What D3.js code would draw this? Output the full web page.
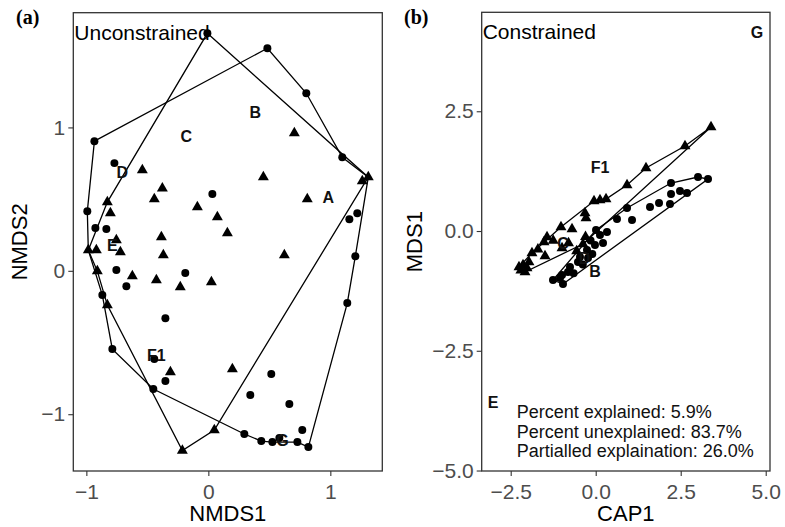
<!DOCTYPE html>
<html><head><meta charset="utf-8">
<script src="https://cdn.jsdelivr.net/npm/d3@7"></script>
<style>body{margin:0;background:#fff}svg{display:block}</style>
</head><body>
<svg id="c" width="785" height="527"></svg>
<script>
// ---------- Panel (a): Unconstrained NMDS ----------
const aCircles = [[-0.008,1.656],[0.484,1.552],[0.803,1.238],[-0.934,0.904],[1.098,0.792],[-0.770,0.751],[0.033,0.535],[1.156,0.360],[1.221,0.402],[-0.992,0.416],[-0.926,0.298],[-0.836,0.291],[1.205,0.102],[-0.754,0.005],[-0.672,-0.107],[-0.189,-0.016],[-0.869,-0.169],[-0.352,-0.330],[1.139,-0.225],[-0.787,-0.546],[-0.443,-0.615],[-0.352,-0.768],[-0.451,-0.824],[0.516,-0.720],[0.344,-0.866],[0.664,-0.929],[0.770,-1.110],[0.295,-1.138],[0.434,-1.187],[0.525,-1.194],[0.582,-1.166],[0.730,-1.194],[0.820,-1.229]];
const aTriangles = [[0.705,0.960],[-0.541,0.702],[0.451,0.653],[1.311,0.653],[1.262,0.625],[-0.377,0.576],[-0.443,0.500],[0.811,0.500],[-0.090,0.444],[0.074,0.374],[0.156,0.263],[-0.828,0.479],[-0.803,0.402],[-0.754,0.214],[-0.385,0.235],[-0.984,0.144],[-0.918,0.144],[-0.721,0.130],[-0.369,0.109],[0.623,0.109],[-0.910,-0.002],[-0.623,-0.037],[-0.426,-0.065],[-0.230,-0.114],[0.025,-0.079],[-0.828,-0.239],[-0.311,-0.706],[0.197,-0.685],[0.049,-1.110],[-0.213,-1.253]];
const aHull1 = [[-0.008,1.656],[1.311,0.653],[0.049,-1.110],[-0.213,-1.253],[-0.828,-0.239],[-0.910,-0.002],[-0.984,0.144],[-0.828,0.479]];
const aHull2 = [[-0.934,0.904],[0.484,1.552],[0.803,1.238],[1.098,0.792],[1.311,0.653],[1.205,0.102],[1.139,-0.225],[0.820,-1.229],[0.730,-1.194],[0.525,-1.194],[0.434,-1.187],[0.295,-1.138],[-0.451,-0.824],[-0.787,-0.546],[-0.869,-0.169],[-0.984,0.144],[-0.992,0.416]];
const aLabels = ["A","B","C","D","E","F1","G"];
const aLabelPos = [[0.984,0.514],[0.385,1.105],[-0.180,0.939],[-0.705,0.688],[-0.787,0.179],[-0.426,-0.587],[0.607,-1.180]];
const aXTicks = [-1,0,1];
const aYTicks = [-1,0,1];

// ---------- Panel (b): Constrained (CAP) ----------
const bTriangles = [[3.391,2.171],[2.626,1.775],[1.479,1.315],[0.921,0.960],[0.303,0.668],[0.126,0.647],[-0.050,0.626],[-0.315,0.376],[-0.285,0.271],[-1.021,0.084],[-0.697,0.042],[-1.432,-0.125],[-1.521,-0.230],[-1.874,-0.459],[-2.138,-0.710],[-2.256,-0.752],[-2.021,-0.772],[-1.962,-0.647],[-1.491,-0.522],[-0.991,-0.355],[-0.374,-0.271],[-2.079,-0.856],[-2.200,-0.820],[-0.300,-0.120],[-0.560,-0.420],[-0.800,-0.250],[-1.700,-0.380],[-1.250,-0.200]];
const bCircles = [[3.303,1.086],[3.009,1.127],[2.215,1.002],[2.479,0.835],[2.685,0.793],[2.215,0.772],[2.185,0.564],[1.862,0.585],[1.597,0.501],[0.921,0.480],[0.626,0.251],[1.068,0.230],[0.009,0.021],[0.332,-0.021],[0.126,-0.084],[0.215,-0.251],[-0.021,-0.292],[-0.256,-0.397],[-0.226,-0.564],[-0.462,-0.543],[-0.521,-0.647],[-0.756,-0.752],[-0.815,-0.856],[-0.991,-0.919],[-1.050,-0.981],[-1.256,-1.023],[-0.962,-1.106],[-0.150,-0.200],[-0.380,-0.700],[-0.650,-0.880],[-0.100,-0.480]];
const bHullTri = [[3.391,2.171],[2.626,1.775],[1.479,1.315],[0.921,0.960],[0.303,0.668],[-0.050,0.626],[-1.021,0.084],[-1.874,-0.459],[-2.256,-0.752],[-2.079,-0.856],[-0.374,-0.271]];
const bHullCir = [[-1.256,-1.023],[-0.962,-1.106],[3.303,1.086],[3.009,1.127],[2.215,1.002],[0.921,0.480],[0.009,0.021]];
const bLabels = ["G","F1","B","E","C","D"];
const bLabelPos = [[4.74,4.15],[0.126,1.336],[-0.02,-0.835],[-3.02,-3.57],[-0.960,-0.250],[-0.330,-0.560]];
const bXTicks = [-2.5,0,2.5,5];
const bYTicks = [-5,-2.5,0,2.5];
const bNotes = ["Percent explained: 5.9%","Percent unexplained: 83.7%","Partialled explaination: 26.0%"];

const svg = d3.select("#c");
const FONT = "'Liberation Sans', Arial, sans-serif";
const INK = "#000";

function panel(o){
  const g = svg.append("g").attr("transform",`translate(${o.left},${o.top})`);
  const x = d3.scaleLinear().domain(o.xd).range([0,o.w]);
  const y = d3.scaleLinear().domain(o.yd).range([o.h,0]);
  const xa = g.append("g").attr("transform",`translate(0,${o.h})`)
    .call(d3.axisBottom(x).tickValues(o.xt).tickSize(5).tickPadding(4).tickFormat(o.fmt));
  const ya = g.append("g").call(d3.axisLeft(y).tickValues(o.yt).tickSize(5).tickPadding(3).tickFormat(o.fmt));
  [xa,ya].forEach(a=>{
    a.select(".domain").remove();
    a.selectAll(".tick line").attr("stroke","#333").attr("stroke-width",1.1);
    a.selectAll(".tick text").attr("fill","#4d4d4d").style("font-family",FONT).style("font-size","21px");
  });
  xa.selectAll(".tick text").attr("dy","0.9em");
  const line = d3.line().x(d=>x(d[0])).y(d=>y(d[1])).curve(d3.curveLinearClosed);
  o.hulls.forEach(h=>g.append("path").attr("d",line(h)).attr("fill","none").attr("stroke",INK).attr("stroke-width",1.3));
  const circ = d3.symbol().type(d3.symbolCircle).size(50);
  const tri = d3.symbol().type(d3.symbolTriangle).size(52);
  g.selectAll(".cp").data(o.circles).join("path").attr("d",circ)
    .attr("transform",d=>`translate(${x(d[0])},${y(d[1])})`).attr("fill",INK);
  g.selectAll(".tp").data(o.tris).join("path").attr("d",tri)
    .attr("transform",d=>`translate(${x(d[0])},${y(d[1])})`).attr("fill",INK);
  g.selectAll(".lab").data(o.labels).join("text")
    .attr("x",(d,i)=>x(o.labelPos[i][0])).attr("y",(d,i)=>y(o.labelPos[i][1]))
    .attr("text-anchor","middle").attr("dy","0.36em")
    .style("font-family",FONT).style("font-weight","bold").style("font-size","16px").attr("fill","#111")
    .text(d=>d);
  g.append("rect").attr("width",o.w).attr("height",o.h).attr("fill","none").attr("stroke","#333").attr("stroke-width",1.3);
  svg.append("text").attr("x",o.left+o.w/2).attr("y",521).attr("text-anchor","middle")
    .style("font-family",FONT).style("font-size","22px").attr("fill","#000").text(o.xlab);
  svg.append("text").attr("transform",`translate(${o.ylabX},${o.top+o.h/2}) rotate(-90)`).attr("text-anchor","middle")
    .style("font-family",FONT).style("font-size","22px").attr("fill","#000").text(o.ylab);
  svg.append("text").attr("x",o.tagX).attr("y",24).style("font-family","'Liberation Serif','Times New Roman',serif")
    .style("font-weight","bold").style("font-size","20px").text(o.tag);
  svg.append("text").attr("x",o.left+1).attr("y",o.top+27).style("font-family",FONT).style("font-size","21px").text(o.title);
  return {g,x,y};
}

panel({left:73.3,top:12.7,w:309,h:458.3,xd:[-1.107,1.426],yd:[-1.396,1.80],xt:aXTicks,yt:aYTicks,
  fmt:d3.format("d"),hulls:[aHull1,aHull2],circles:aCircles,tris:aTriangles,labels:aLabels,labelPos:aLabelPos,
  xlab:"NMDS1",ylab:"NMDS2",ylabX:27,tag:"(a)",tagX:16,title:"Unconstrained"});

const pb = panel({left:481.7,top:12.3,w:288.3,h:458.7,xd:[-3.353,5.126],yd:[-5.01,4.566],xt:bXTicks,yt:bYTicks,
  fmt:d3.format(".1f"),hulls:[bHullTri,bHullCir],circles:bCircles,tris:bTriangles,labels:bLabels,labelPos:bLabelPos,
  xlab:"CAP1",ylab:"MDS1",ylabX:422,tag:"(b)",tagX:404,title:"Constrained"});

pb.g.selectAll(".note").data(bNotes).join("text")
  .attr("x",35).attr("y",(d,i)=>406+i*19.5)
  .style("font-family",FONT).style("font-size","18px").attr("fill","#111").text(d=>d);
</script>
</body></html>
